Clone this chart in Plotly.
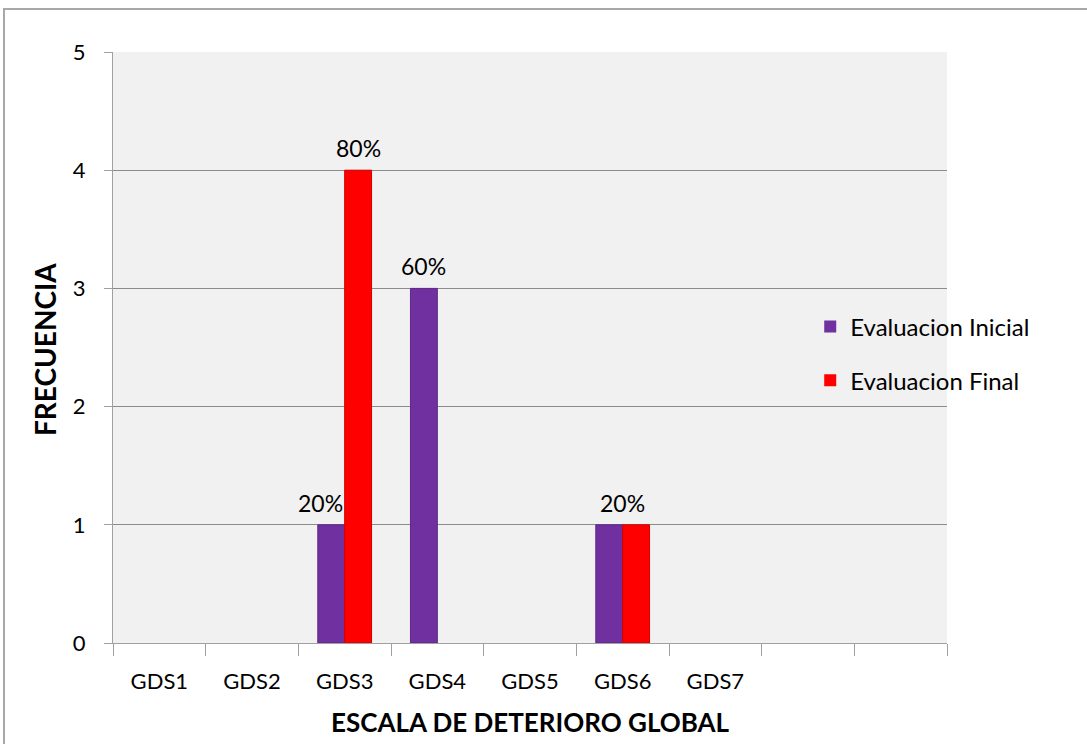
import plotly.graph_objects as go

categories = ["GDS1", "GDS2", "GDS3", "GDS4", "GDS5", "GDS6", "GDS7"]
inicial = [0, 0, 1, 3, 0, 1, 0]
final = [0, 0, 4, 0, 0, 1, 0]
labels_inicial = ["", "", "20%", "60%", "", "", ""]
labels_final = ["", "", "80%", "", "", "20%", ""]
n_slots = 9  # two empty category slots at the end

FONT = "Lato"
xs = list(range(len(categories)))
BARGAP = 0.42
half = (1 - BARGAP) / 4  # offset of each bar centre from the category centre

def edge(vals):
    return [1 if v else 0 for v in vals]

fig = go.Figure()
fig.add_trace(go.Bar(
    x=xs, y=inicial, name="Evaluacion Inicial",
    marker=dict(color="#7030A0", line=dict(color="#5E2887", width=edge(inicial))),
    legend="legend",
))
fig.add_trace(go.Bar(
    x=xs, y=final, name="Evaluacion Final",
    marker=dict(color="#FF0000", line=dict(color="#D00000", width=edge(final))),
    legend="legend2",
))

# data labels (Excel-style placement: nudged away from neighbouring bars)
nudge = {("ini", 2): -11, ("fin", 5): -14}
annotations = []
for key, vals, labs, off in (("ini", inicial, labels_inicial, -half),
                             ("fin", final, labels_final, half)):
    for i, (v, t) in enumerate(zip(vals, labs)):
        if t:
            annotations.append(dict(
                x=i + off, y=v, xref="x", yref="y", text=t, showarrow=False,
                yanchor="bottom", yshift=6, xshift=nudge.get((key, i), 0),
                font=dict(family=FONT, size=23, color="black")))

# axis titles placed in the margins
annotations.append(dict(text="<b>ESCALA DE DETERIORO GLOBAL</b>", xref="paper",
                        yref="paper", x=0.5, y=-(722 - 643) / 591,
                        yanchor="middle", showarrow=False,
                        font=dict(family=FONT, size=26, color="black")))
annotations.append(dict(text="<b>FRECUENCIA</b>", xref="paper", yref="paper",
                        x=-(113 - 45) / 834, y=(643 - 350) / 591, textangle=-90,
                        xanchor="center", yanchor="middle", showarrow=False,
                        font=dict(family=FONT, size=28, color="black")))

fig.update_layout(
    width=1087, height=744,
    margin=dict(l=113, r=140, t=52, b=101),
    paper_bgcolor="white",
    plot_bgcolor="#F1F1F1",
    barmode="group", bargap=BARGAP, bargroupgap=0,
    font=dict(family=FONT, size=22, color="black"),
    annotations=annotations,
    legend=dict(x=0.836, y=0.535, xanchor="left", yanchor="middle",
                bgcolor="rgba(0,0,0,0)", font=dict(size=24)),
    legend2=dict(x=0.836, y=0.444, xanchor="left", yanchor="middle",
                 bgcolor="rgba(0,0,0,0)", font=dict(size=24)),
    xaxis=dict(
        range=[-0.5, n_slots - 0.5], automargin=False,
        tickvals=xs, ticktext=categories,
        ticks="", showgrid=False, zeroline=False,
        showline=True, linecolor="#A0A0A0", linewidth=1,
        ticklabelstandoff=19,
        minor=dict(tick0=-0.5, dtick=1, ticks="outside", ticklen=12,
                   tickcolor="#A0A0A0", showgrid=False),
        fixedrange=True,
    ),
    yaxis=dict(
        range=[0, 5], dtick=1, automargin=False,
        ticks="outside", ticklen=8, tickcolor="#A0A0A0",
        showgrid=True, gridcolor="#8C8C8C", gridwidth=1,
        zeroline=False,
        showline=True, linecolor="#A0A0A0", linewidth=1,
        ticklabelstandoff=14,
    ),
    showlegend=True,
)

# figure border (only left/top edges fall inside the page)
fig.add_shape(type="rect", xref="paper", yref="paper",
              x0=(4 - 113) / 834, x1=(1095 - 113) / 834,
              y0=(643 - 752) / 591, y1=(643 - 9) / 591,
              line=dict(color="#A8A8A8", width=2), layer="below")

fig.write_html("out.html")
